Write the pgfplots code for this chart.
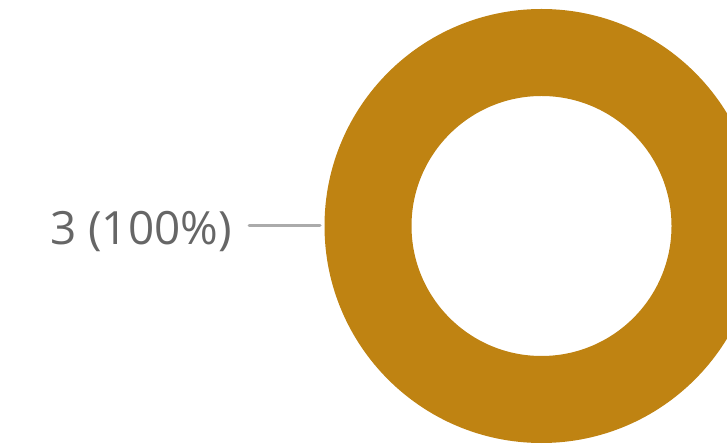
\documentclass[border=0pt]{standalone}
\usepackage{pgfplots}
\pgfplotsset{compat=1.18}
\usepackage{pgfplotstable}
\usepackage{fontspec}
\setmainfont{Open Sans}
\definecolor{slicegold}{HTML}{BF8312}
\definecolor{labelgray}{HTML}{666666}
\definecolor{leadergray}{HTML}{ABABAB}
\pgfplotstableread{
label value
3 3
}\slicedata
\begin{document}
\begin{tikzpicture}
\pgfplotstablegetelem{0}{value}\of\slicedata
\pgfmathsetmacro{\total}{\pgfplotsretval}
\pgfmathsetmacro{\sweep}{360*\pgfplotsretval/\total}
\begin{axis}[
  width=727bp, height=444bp, scale only axis,
  xmin=0, xmax=727, ymin=0, ymax=444,
  hide axis, clip=true,
]
% donut slice (single category, 100%)
\fill[slicegold, even odd rule]
  (axis cs:541.5,218) ++(90:217) arc[start angle=90, delta angle=\sweep, radius=217]
  -- cycle
  (axis cs:541.5,218) circle[radius=130];
\draw[leadergray, line width=3bp, line cap=round] (axis cs:249,218) -- (axis cs:320,218);
\node[anchor=base east, inner sep=0pt, text=labelgray, font=\fontsize{46}{52}\selectfont]
  at (axis cs:232,199) {3 (100\%)};
\end{axis}
\pgfresetboundingbox
\useasboundingbox (current axis.south west) rectangle (current axis.north east);
\end{tikzpicture}
\end{document}
